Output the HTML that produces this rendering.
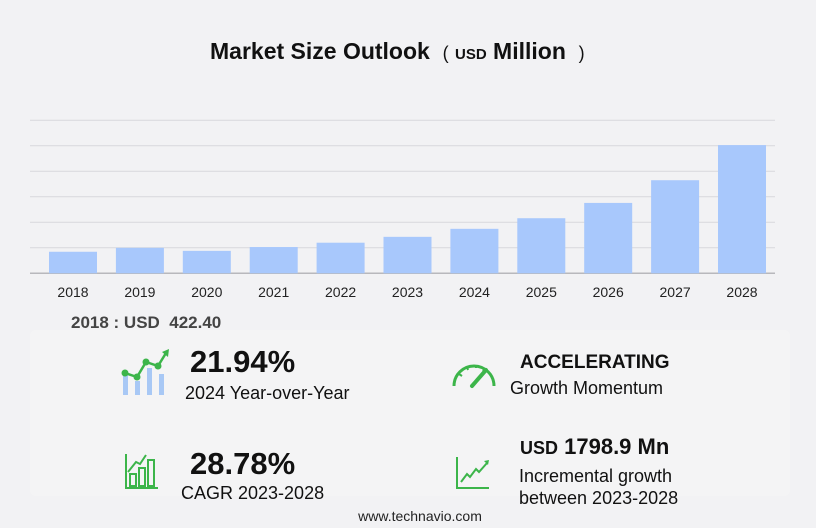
<!DOCTYPE html>
<html><head><meta charset="utf-8"><style>
body{margin:0;background:#f2f2f4;font-family:"Liberation Sans",sans-serif;}
#wrap{position:relative;width:816px;height:528px;overflow:hidden;background:#f2f2f4}
.t{position:absolute;white-space:nowrap;color:#111}
</style></head><body>
<div id="wrap">
<div class="t" style="left:210px;top:38px;font-size:23px;font-weight:bold">Market Size Outlook &nbsp;<span style="font-weight:normal;font-size:18px">(</span> <span style="font-size:15px">USD</span> Million &nbsp;<span style="font-weight:normal;font-size:18px">)</span></div>
<svg id="chart" width="816" height="310" style="position:absolute;left:0;top:0"></svg>
<div style="position:absolute;left:30px;top:330px;width:760px;height:166px;background:#f4f4f5;border-radius:6px"></div>
<div class="t" style="left:71px;top:313px;font-size:17px;font-weight:bold;color:#444">2018 : USD&nbsp; 422.40</div>

<svg width="60" height="50" style="position:absolute;left:118px;top:348px">
<rect x="5" y="27" width="5" height="20" fill="#a8c8f5"/><rect x="17" y="33" width="5" height="14" fill="#a8c8f5"/><rect x="29" y="20" width="5" height="27" fill="#a8c8f5"/><rect x="41" y="26" width="5" height="21" fill="#a8c8f5"/>
<polyline points="7,25 19,29 28,14 40,18 48,5" fill="none" stroke="#3cb54a" stroke-width="2.5"/>
<circle cx="7" cy="25" r="3.5" fill="#3cb54a"/><circle cx="19" cy="29" r="3.5" fill="#3cb54a"/><circle cx="28" cy="14" r="3.5" fill="#3cb54a"/><circle cx="40" cy="18" r="3.5" fill="#3cb54a"/><polygon points="44,4 51,1 50,9" fill="#3cb54a"/></svg>
<div class="t" style="left:190px;top:344px;font-size:31px;font-weight:bold">21.94%</div>
<div class="t" style="left:185px;top:383px;font-size:18px">2024 Year-over-Year</div>

<svg width="50" height="40" style="position:absolute;left:450px;top:358px">
<path d="M4,28 A20,20 0 0 1 44,28" fill="none" stroke="#3cb54a" stroke-width="3"/>
<g stroke="#3cb54a" stroke-width="2"><line x1="9" y1="16" x2="12" y2="18"/><line x1="17" y1="9" x2="18" y2="12"/><line x1="26" y1="7" x2="26" y2="10"/><line x1="35" y1="10" x2="33" y2="13"/></g>
<line x1="22" y1="28" x2="36" y2="12" stroke="#3cb54a" stroke-width="4" stroke-linecap="round"/></svg>
<div class="t" style="left:520px;top:352px;font-size:19px;font-weight:bold">ACCELERATING</div>
<div class="t" style="left:510px;top:378px;font-size:18px">Growth Momentum</div>

<svg width="40" height="50" style="position:absolute;left:124px;top:452px">
<path d="M2,2 V36 H34" fill="none" stroke="#3cb54a" stroke-width="2"/>
<rect x="6" y="22" width="6" height="12" fill="none" stroke="#3cb54a" stroke-width="2"/><rect x="15" y="16" width="6" height="18" fill="none" stroke="#3cb54a" stroke-width="2"/><rect x="24" y="8" width="6" height="26" fill="none" stroke="#3cb54a" stroke-width="2"/>
<polyline points="4,20 12,10 16,12 22,3" fill="none" stroke="#3cb54a" stroke-width="2"/></svg>
<div class="t" style="left:190px;top:446px;font-size:31px;font-weight:bold">28.78%</div>
<div class="t" style="left:181px;top:483px;font-size:18px">CAGR 2023-2028</div>

<svg width="40" height="45" style="position:absolute;left:455px;top:455px">
<path d="M2,2 V33 H34" fill="none" stroke="#3cb54a" stroke-width="2"/>
<polyline points="6,27 12,19 15,22 21,14 24,17 32,8" fill="none" stroke="#3cb54a" stroke-width="2"/><polygon points="29,6 34,5 33,10" fill="#3cb54a"/></svg>
<div class="t" style="left:520px;top:434px;font-size:22px;font-weight:bold"><span style="font-size:18px">USD</span> 1798.9 Mn</div>
<div class="t" style="left:519px;top:465px;font-size:18px;line-height:22px">Incremental growth<br>between 2023-2028</div>
<div class="t" style="left:0;width:840px;text-align:center;top:508px;font-size:14px;color:#222">www.technavio.com</div>
</div>
<script>
const years=["2018","2019","2020","2021","2022","2023","2024","2025","2026","2027","2028"];
const values=[422.4,500,440,515,600,715,872,1080,1380,1825,2514];
const gridTicks=[0,500,1000,1500,2000,2500,3000];
const svg=document.getElementById('chart');
const NS='http://www.w3.org/2000/svg';
const y0=273.3,yTop=120.3,yMax=3000;
function ys(v){return y0-(v/yMax)*(y0-yTop);}
function xs(i){return 49+i*66.9;}
gridTicks.forEach(t=>{
 const l=document.createElementNS(NS,'line');
 
 
 l.setAttribute('x1',30);l.setAttribute('x2',775);l.setAttribute('y1',ys(t));l.setAttribute('y2',ys(t));
 l.setAttribute('stroke',t===0?'#b8b8bc':'#d8d8dc');l.setAttribute('stroke-width',t===0?1.5:1);
 svg.appendChild(l);
});
values.forEach((v,i)=>{
 const r=document.createElementNS(NS,'rect');
 
 
 r.setAttribute('x',xs(i));r.setAttribute('width',48);r.setAttribute('y',ys(v));r.setAttribute('height',y0-ys(v));
 r.setAttribute('fill','#a8c8fc');
 svg.insertBefore(r,svg.lastChild);
 const t=document.createElementNS(NS,'text');
 
 
 t.setAttribute('x',xs(i)+24);t.setAttribute('y',297);t.setAttribute('text-anchor','middle');
 t.setAttribute('font-size','14');t.setAttribute('fill','#222');t.setAttribute('font-family','Liberation Sans, sans-serif');
 t.textContent=years[i];svg.appendChild(t);
});
</script>
</body></html>
